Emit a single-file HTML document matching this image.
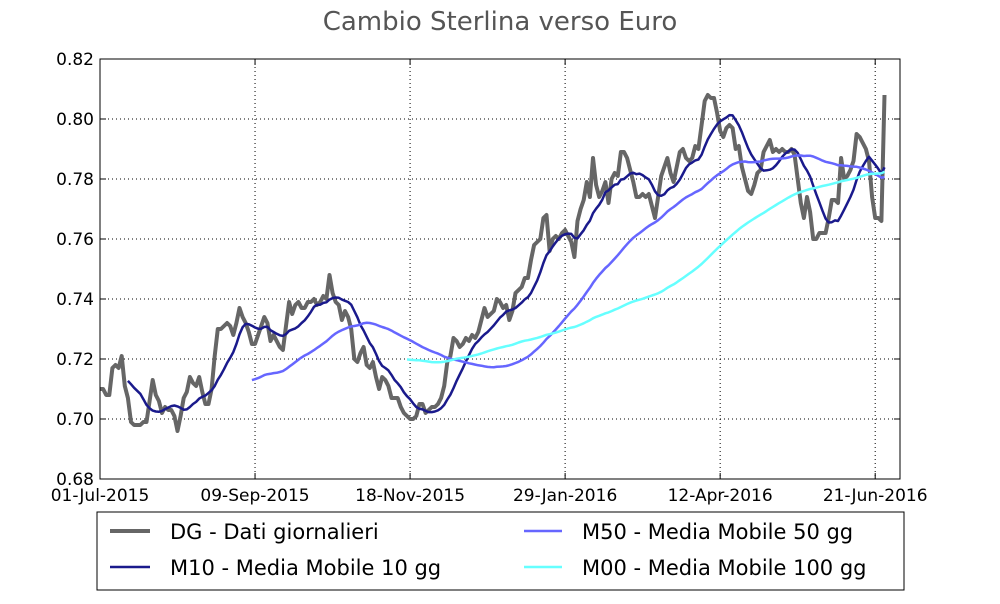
<!DOCTYPE html>
<html><head><meta charset="utf-8"><style>
body{margin:0;background:#fff;width:1000px;height:600px;overflow:hidden;font-family:"DejaVu Sans","Liberation Sans",sans-serif;}
</style></head><body>
<svg id="chart" width="1000" height="600" xmlns="http://www.w3.org/2000/svg" font-family="DejaVu Sans, Liberation Sans, sans-serif">
<rect width="1000" height="600" fill="#fff"/>
<text x="500" y="30" text-anchor="middle" font-size="26" fill="#555">Cambio Sterlina verso Euro</text>
<g id="grid"></g>
<g id="series"></g>
<rect x="100" y="59" width="800" height="420" fill="none" stroke="#000" stroke-width="1"/>
<g id="axes"></g>
<g>
<rect x="97" y="512" width="807" height="78" fill="#fff" stroke="#000" stroke-width="1"/>
<g><line x1="110" y1="531" x2="150" y2="531" stroke="#666" stroke-width="4"/><text x="170" y="539" font-size="21">DG - Dati giornalieri</text></g>
<g><line x1="110" y1="567" x2="150" y2="567" stroke="#1a1a8c" stroke-width="2.5"/><text x="170" y="575" font-size="21">M10 - Media Mobile 10 gg</text></g>
<g><line x1="524" y1="531" x2="562" y2="531" stroke="#6666ff" stroke-width="2.5"/><text x="582" y="539" font-size="21">M50 - Media Mobile 50 gg</text></g>
<g><line x1="524" y1="567" x2="562" y2="567" stroke="#66ffff" stroke-width="2.5"/><text x="582" y="575" font-size="21">M00 - Media Mobile 100 gg</text></g>
</g>
</svg>
<script>
const dailyValues = [
0.710,0.710,0.708,0.708,0.717,0.718,0.717,0.721,0.711,0.707,
0.699,0.698,0.698,0.698,0.699,0.699,0.706,0.713,0.708,0.706,
0.702,0.704,0.703,0.703,0.701,0.696,0.701,0.707,0.709,0.714,
0.712,0.711,0.714,0.709,0.705,0.705,0.710,0.721,0.730,0.730,
0.731,0.732,0.731,0.728,0.732,0.737,0.734,0.732,0.729,0.725,
0.725,0.728,0.731,0.734,0.732,0.726,0.728,0.726,0.724,0.723,
0.731,0.739,0.735,0.738,0.739,0.737,0.737,0.739,0.739,0.740,
0.738,0.739,0.741,0.740,0.748,0.742,0.739,0.738,0.733,0.736,
0.734,0.730,0.720,0.719,0.722,0.724,0.718,0.717,0.719,0.714,
0.710,0.714,0.713,0.711,0.707,0.707,0.707,0.704,0.702,0.701,
0.700,0.700,0.701,0.705,0.705,0.702,0.703,0.704,0.704,0.705,
0.707,0.711,0.719,0.721,0.727,0.726,0.724,0.725,0.727,0.726,
0.728,0.727,0.729,0.733,0.737,0.734,0.735,0.736,0.740,0.739,
0.737,0.738,0.733,0.736,0.742,0.743,0.744,0.747,0.747,0.753,
0.758,0.759,0.760,0.767,0.768,0.756,0.760,0.761,0.760,0.762,
0.763,0.761,0.759,0.754,0.766,0.770,0.773,0.779,0.774,0.787,
0.778,0.774,0.776,0.779,0.772,0.780,0.782,0.781,0.789,0.789,
0.787,0.783,0.779,0.774,0.774,0.775,0.774,0.775,0.771,0.767,
0.774,0.781,0.784,0.787,0.782,0.779,0.784,0.789,0.790,0.787,
0.786,0.787,0.791,0.790,0.798,0.806,0.808,0.807,0.807,0.802,
0.796,0.794,0.797,0.798,0.797,0.790,0.791,0.784,0.780,0.776,
0.775,0.778,0.782,0.783,0.789,0.791,0.793,0.789,0.790,0.789,
0.790,0.789,0.789,0.790,0.788,0.780,0.772,0.767,0.774,0.769,
0.760,0.760,0.762,0.762,0.762,0.767,0.773,0.773,0.772,0.787,
0.780,0.781,0.783,0.786,0.795,0.794,0.792,0.790,0.786,0.774,
0.767,0.767,0.766,0.808
];
const xTickLabels = ["01-Jul-2015","09-Sep-2015","18-Nov-2015","29-Jan-2016","12-Apr-2016","21-Jun-2016"];
const xTickIndices = [0,50,100,150,200,250];
const yTicks = [0.68,0.70,0.72,0.74,0.76,0.78,0.80,0.82];
const maWindows = [10,50,100];

const NS="http://www.w3.org/2000/svg";
const X0=100,X1=900,Y0=479,Y1=59,YMIN=0.68,YMAX=0.82,NPTS=258;
function xs(i){return X0+(X1-X0)*i/NPTS;}
function ys(v){return Y0-(Y0-Y1)*(v-YMIN)/(YMAX-YMIN);}
function mk(tag,attrs,parent){const e=document.createElementNS(NS,tag);for(const k in attrs)e.setAttribute(k,attrs[k]);parent.appendChild(e);return e;}
const grid=document.getElementById('grid'),axes=document.getElementById('axes'),series=document.getElementById('series');

yTicks.forEach((t,k)=>{
  const y=ys(t);
  if(k>0&&k<yTicks.length-1){const g=mk('line',{x1:X0,x2:X1,y1:y,y2:y,stroke:'#000','stroke-width':1,'stroke-dasharray':'1,3'},grid);
  
  }
  mk('line',{x1:X0,x2:X0+6,y1:y,y2:y,stroke:'#000'},axes);
  mk('line',{x1:X1-6,x2:X1,y1:y,y2:y,stroke:'#000'},axes);
  const tx=mk('text',{x:X0-6,y:y+6,'text-anchor':'end','font-size':17},axes);
  tx.textContent=t.toFixed(2);
  
  
});
xTickIndices.forEach((idx,k)=>{
  const x=xs(idx);
  if(k>0){const g=mk('line',{x1:x,x2:x,y1:Y1,y2:Y0,stroke:'#000','stroke-width':1,'stroke-dasharray':'1,3'},grid);
  
  }
  mk('line',{x1:x,x2:x,y1:Y0,y2:Y0-6,stroke:'#000'},axes);
  mk('line',{x1:x,x2:x,y1:Y1,y2:Y1+6,stroke:'#000'},axes);
  const tx=mk('text',{x:x,y:Y0+22,'text-anchor':'middle','font-size':17},axes);
  tx.textContent=xTickLabels[k];
  
  
});

function movingAverage(arr,w){const out=[];for(let i=w-1;i<arr.length;i++){let s=0;for(let j=i-w+1;j<=i;j++)s+=arr[j];out.push([i,s/w]);}return out;}
function path(points,color,width,name){
  const d=points.map((p,k)=>(k?'L':'M')+xs(p[0]).toFixed(1)+','+ys(p[1]).toFixed(1)).join(' ');
  const p=mk('path',{d:d,fill:'none',stroke:color,'stroke-width':width,'stroke-linejoin':'round'},series);
  
  
}
path(dailyValues.map((v,i)=>[i,v]),'#666',4,'dg-daily-line');
path(movingAverage(dailyValues,maWindows[0]),'#1a1a8c',2.5,'m10-line');
path(movingAverage(dailyValues,maWindows[1]),'#6666ff',2.5,'m50-line');
path(movingAverage(dailyValues,maWindows[2]),'#66ffff',2.5,'m00-line');
</script>
</body></html>
